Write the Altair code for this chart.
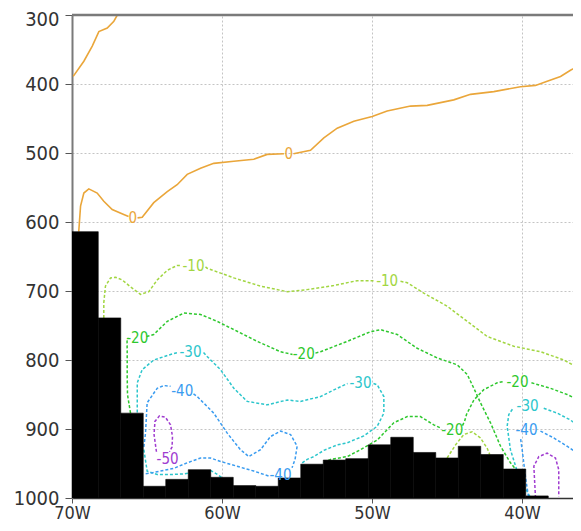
import altair as alt
import pandas as pd

# ---------------- values ----------------
LEVELS = ["0", "-10", "-20", "-30", "-40", "-50"]
LEVEL_COLORS = ["#eaa63a", "#a2d642", "#2ec82e", "#2cc6cc", "#3a9cf0", "#a03cd0"]

P_TICKS = [300, 400, 500, 600, 700, 800, 900, 1000]
LON_TICKS = [-70, -60, -50, -40]
LON_DOMAIN = [-70, -36.6]
P_DOMAIN = [300, 1000]

# terrain cells (west edge, east edge, surface pressure hPa)
TERRAIN_W = [-70.0, -68.25, -66.75, -65.25, -63.75, -62.25, -60.75, -59.25, -57.75, -56.25, -54.75,
             -53.25, -51.75, -50.25, -48.75, -47.25, -45.75, -44.25, -42.75, -41.25, -39.75]
TERRAIN_E = [-68.25, -66.75, -65.25, -63.75, -62.25, -60.75, -59.25, -57.75, -56.25, -54.75, -53.25,
             -51.75, -50.25, -48.75, -47.25, -45.75, -44.25, -42.75, -41.25, -39.75, -38.25]
TERRAIN_TOP = [614, 739, 877, 983, 973, 959, 970, 982, 983, 971, 951,
               945, 943, 923, 912, 934, 942, 925, 937, 958, 997]

# contour 0
C0_A_LON = [-69.92, -69.21, -68.65, -68.21, -67.65, -67.21, -66.77]
C0_A_P = [389, 367, 345, 324, 319, 309, 292]
C0_B_LON = [-69.55, -69.43, -69.21, -68.88, -68.32, -67.88, -67.32, -66.55, -66.23]
C0_B_P = [614, 577, 558, 552, 558, 570, 582, 589, 592]
C0_C_LON = [-65.63, -65.32, -64.55, -63.65, -62.99, -62.32, -61.43, -60.55, -59.21, -57.88, -56.99, -55.87]
C0_C_P = [594, 593, 572, 556, 546, 531, 522, 515, 512, 509, 502, 501]
C0_D_LON = [-55.23, -54.1, -53.21, -52.32, -51.21, -49.99, -48.99, -47.43, -46.32, -44.55, -43.43,
            -41.88, -40.1, -39.1, -38.32, -37.43, -36.77, -36.03, -35.77]
C0_D_P = [501, 496, 478, 464, 454, 447, 439, 432, 431, 423, 415, 411, 404, 402, 396, 389, 380, 372, 369]

# contour -10
M10_A_LON = [-67.88, -67.88, -67.77, -67.43, -67.1, -66.65, -66.1, -65.43, -64.88, -64.32, -63.65, -62.99, -62.7]
M10_A_P = [739, 717, 693, 681, 680, 684, 694, 705, 701, 684, 670, 663, 663]
M10_B_LON = [-61.1, -60.99, -59.21, -57.43, -55.65, -54.32, -52.55, -50.99, -49.9]
M10_B_P = [665, 667, 681, 693, 701, 698, 692, 685, 685]
M10_C_LON = [-48.1, -47.65, -46.55, -44.99, -43.65, -42.32, -40.55, -38.77, -37.21, -36.03, -35.43]
M10_C_P = [686, 688, 703, 722, 744, 766, 780, 788, 800, 814, 823]
M10_D_LON = [-44.99, -44.43, -43.88, -43.32, -42.77, -42.32, -42.15]
M10_D_P = [942, 923, 908, 904, 913, 928, 937]

# contour -20
M20_A_LON = [-66.1, -66.3, -66.32, -66.32, -66.33, -66.23]
M20_A_P = [877, 850, 824, 790, 771, 768]
M20_B_LON = [-65.03, -64.55, -63.65, -62.55, -61.43, -60.32, -59.21, -57.65, -56.1, -55.3]
M20_B_P = [766, 763, 744, 732, 734, 744, 756, 773, 788, 792]
M20_C_LON = [-53.77, -53.43, -51.65, -50.1, -49.43, -48.32, -46.99, -45.65, -44.32, -43.65, -43.21,
             -42.77, -42.1, -41.43, -40.77, -40.43]
M20_C_P = [790, 788, 773, 759, 756, 763, 783, 797, 807, 821, 841, 862, 891, 925, 949, 958]
M20_D_LON = [-53.21, -52.77, -51.65, -50.77, -49.65, -48.55, -47.65, -46.77, -45.88, -45.37]
M20_D_P = [949, 944, 940, 930, 916, 891, 882, 882, 894, 899]
M20_E_LON = [-43.97, -43.83, -43.7, -43.21, -42.55, -41.65, -41.17]
M20_E_P = [895, 889, 879, 858, 843, 833, 831]
M20_F_LON = [-39.37, -38.1, -36.99, -36.03, -35.43]
M20_F_P = [833, 841, 850, 860, 866]

# contour -30
M30_A_LON = [-65.65, -65.65, -65.65, -65.32, -64.55, -63.43, -62.9]
M30_A_P = [876, 850, 833, 814, 800, 792, 789]
M30_B_LON = [-61.23, -60.99, -60.1, -59.21, -58.32, -56.99, -55.65, -54.77, -53.43, -52.32, -51.63]
M30_B_P = [789, 795, 814, 841, 860, 865, 858, 860, 853, 841, 834]
M30_C_LON = [-49.9, -49.65, -49.21, -49.21, -49.65, -50.55, -51.65, -52.32, -53.21, -53.88, -54.32, -54.77]
M30_C_P = [834, 836, 853, 877, 896, 910, 920, 923, 931, 940, 944, 951]
M30_D_LON = [-65.21, -64.99, -64.32, -63.43, -62.55, -62.23]
M30_D_P = [930, 961, 966, 966, 965, 964]
M30_E_LON = [-60.77, -60.37, -60.03]
M30_E_P = [960, 965, 970]
M30_F_LON = [-39.47, -40.21, -40.77, -40.99, -40.88, -40.63]
M30_F_P = [998, 969, 930, 896, 879, 871]
M30_G_LON = [-38.55, -37.65, -36.77, -36.03, -35.43]
M30_G_P = [870, 877, 887, 899, 907]

# contour -40
M40_A_LON = [-65.21, -65.1, -64.99, -64.32, -63.88, -63.43]
M40_A_P = [926, 906, 862, 841, 837, 838]
M40_B_LON = [-61.9, -61.65, -60.55, -59.65, -58.77, -58.21, -57.43, -56.77, -56.1, -55.43, -54.99, -55.13, -55.33]
M40_B_P = [849, 853, 877, 906, 930, 940, 930, 911, 903, 908, 925, 944, 956]
M40_C_LON = [-56.9, -57.88, -58.99, -60.1, -60.77, -61.43, -62.32, -63.21, -64.1, -64.77, -65.21]
M40_C_P = [968, 961, 954, 947, 942, 942, 949, 957, 961, 964, 965]
M40_D_LON = [-39.57, -39.77, -39.99, -40.1]
M40_D_P = [998, 969, 930, 913]
M40_E_LON = [-38.77, -37.88, -36.99, -36.32, -35.43]
M40_E_P = [903, 913, 925, 935, 947]

# contour -50
M50_A_LON = [-64.37, -64.53, -64.47, -64.17, -63.77, -63.43, -63.3, -63.33, -63.5]
M50_A_P = [933, 908, 889, 881, 883, 894, 911, 926, 933]
M50_B_LON = [-39.1, -39.21, -38.88, -38.32, -37.77, -37.55, -37.55]
M50_B_P = [1000, 954, 940, 935, 942, 959, 998]

# contour labels
LABEL_TEXT = ["0", "0", "-10", "-10", "-20", "-20", "-20", "-20", "-30", "-30", "-30", "-40", "-40", "-40", "-50"]
LABEL_LEVEL = ["0", "0", "-10", "-10", "-20", "-20", "-20", "-20", "-30", "-30", "-30", "-40", "-40", "-40", "-50"]
LABEL_LON = [-65.95, -55.55, -61.9, -48.99, -65.65, -54.55, -44.65, -40.3, -62.1, -50.77, -39.63, -62.65, -56.1, -39.7, -63.63]
LABEL_P = [594, 501, 664, 685, 768, 792, 901, 832, 788, 833, 867, 845, 966, 901, 944]

SEGMENTS = [
    ("0", C0_A_LON, C0_A_P), ("0", C0_B_LON, C0_B_P), ("0", C0_C_LON, C0_C_P), ("0", C0_D_LON, C0_D_P),
    ("-10", M10_A_LON, M10_A_P), ("-10", M10_B_LON, M10_B_P), ("-10", M10_C_LON, M10_C_P), ("-10", M10_D_LON, M10_D_P),
    ("-20", M20_A_LON, M20_A_P), ("-20", M20_B_LON, M20_B_P), ("-20", M20_C_LON, M20_C_P),
    ("-20", M20_D_LON, M20_D_P), ("-20", M20_E_LON, M20_E_P), ("-20", M20_F_LON, M20_F_P),
    ("-30", M30_A_LON, M30_A_P), ("-30", M30_B_LON, M30_B_P), ("-30", M30_C_LON, M30_C_P),
    ("-30", M30_D_LON, M30_D_P), ("-30", M30_E_LON, M30_E_P), ("-30", M30_F_LON, M30_F_P), ("-30", M30_G_LON, M30_G_P),
    ("-40", M40_A_LON, M40_A_P), ("-40", M40_B_LON, M40_B_P), ("-40", M40_C_LON, M40_C_P),
    ("-40", M40_D_LON, M40_D_P), ("-40", M40_E_LON, M40_E_P),
    ("-50", M50_A_LON, M50_A_P), ("-50", M50_B_LON, M50_B_P),
]

# ---------------- tables ----------------
rows = []
for s, (lev, lons, ps) in enumerate(SEGMENTS):
    for i, (lo, p) in enumerate(zip(lons, ps)):
        rows.append({"seg": s, "i": i, "level": lev, "lon": lo, "p": p})
lines_df = pd.DataFrame(rows)

terrain_df = pd.DataFrame({"w": TERRAIN_W, "e": TERRAIN_E, "top": TERRAIN_TOP,
                           "base": [1000] * len(TERRAIN_TOP)})
labels_df = pd.DataFrame({"text": LABEL_TEXT, "level": LABEL_LEVEL, "lon": LABEL_LON, "p": LABEL_P})
top_df = pd.DataFrame({"p": [P_DOMAIN[0]]})

FONT = "Liberation Sans Narrow, DejaVu Sans Condensed, Arial Narrow, sans-serif"

x_scale = alt.Scale(domain=LON_DOMAIN, nice=False, zero=False)
y_scale = alt.Scale(domain=P_DOMAIN, reverse=True, nice=False, zero=False)
color_scale = alt.Scale(domain=LEVELS, range=LEVEL_COLORS)

x_axis = alt.Axis(values=LON_TICKS, labelExpr="abs(datum.value) + 'W'", title=None,
                  grid=True, gridDash=[2, 2], gridColor="#c4c4c4", gridWidth=1,
                  domainColor="#333333", domainWidth=1.5, tickColor="#555555", tickSize=5,
                  labelFont=FONT, labelFontSize=18, labelColor="#333333", labelPadding=1,
                  labelFlush=False, labelOverlap=False)
y_axis = alt.Axis(values=P_TICKS, format="d", title=None,
                  grid=True, gridDash=[2, 2], gridColor="#c4c4c4", gridWidth=1,
                  domainColor="#7a7a7a", domainWidth=2, tickColor="#555555", tickSize=7,
                  labelFont=FONT, labelFontSize=20, labelColor="#333333", labelPadding=6,
                  labelOffset={"condition": {"test": "datum.value == 300", "value": 4}, "value": 0},
                  labelFlush=False, labelOverlap=False)

base_lines = alt.Chart(lines_df)

solid = base_lines.transform_filter(alt.datum.level == "0").mark_line(
    strokeWidth=1.6, clip=True
).encode(
    x=alt.X("lon:Q", scale=x_scale, axis=x_axis),
    y=alt.Y("p:Q", scale=y_scale, axis=y_axis),
    color=alt.Color("level:N", scale=color_scale, legend=None),
    detail="seg:N",
    order="i:Q",
)

dashed = base_lines.transform_filter(alt.datum.level != "0").mark_line(
    strokeWidth=1.5, strokeDash=[3, 2], clip=True
).encode(
    x=alt.X("lon:Q", scale=x_scale),
    y=alt.Y("p:Q", scale=y_scale),
    color=alt.Color("level:N", scale=color_scale, legend=None),
    detail="seg:N",
    order="i:Q",
)

terrain = alt.Chart(terrain_df).mark_rect(
    color="#000000", stroke="#000000", strokeWidth=0.6, clip=True
).encode(
    x=alt.X("w:Q", scale=x_scale),
    x2="e:Q",
    y=alt.Y("top:Q", scale=y_scale),
    y2="base:Q",
)

labels = alt.Chart(labels_df).mark_text(
    font=FONT, fontSize=15, align="center", baseline="middle", clip=True
).encode(
    x=alt.X("lon:Q", scale=x_scale),
    y=alt.Y("p:Q", scale=y_scale),
    text="text:N",
    color=alt.Color("level:N", scale=color_scale, legend=None),
)

top_border = alt.Chart(top_df).mark_rule(color="#7a7a7a", strokeWidth=2.5).encode(
    y=alt.Y("p:Q", scale=y_scale),
)

chart = alt.layer(solid, dashed, terrain, labels, top_border).properties(
    width=501,
    height=483,
    padding={"left": 64, "top": 7, "right": 0, "bottom": 25},
    autosize=alt.AutoSizeParams(type="none"),
).configure_view(stroke=None).configure(background="white")

chart.save("out.html", embed_options={"renderer": "svg", "actions": False})
